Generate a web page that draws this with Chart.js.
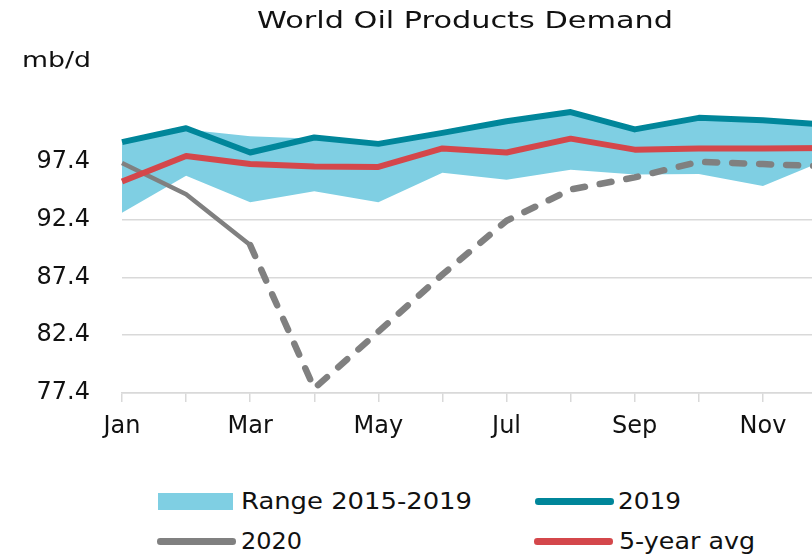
<!DOCTYPE html>
<html>
<head>
<meta charset="utf-8">
<script src="https://cdn.jsdelivr.net/npm/chart.js@4.4.1/dist/chart.umd.min.js"></script>
<style>
  html, body { margin: 0; padding: 0; background: #fff; }
  #wrap { position: relative; width: 812px; height: 557px; overflow: hidden; background: #fff; }
  #chart { position: absolute; left: 0; top: 0; }
  .txt { position: absolute; font-family: "DejaVu Sans", sans-serif; color: #111;
         white-space: nowrap; display: inline-block; transform-origin: left top; }
  .key { position: absolute; }
</style>
</head>
<body>
<div id="wrap">
  <canvas id="chart" width="840" height="470"></canvas>
  <span class="txt" id="title" style="left:257px; top:8.8px; font-size:23px; line-height:23px;">World Oil Products Demand</span>
  <span class="txt" id="unit" style="left:22px; top:48.7px; font-size:22px; line-height:22px;">mb/d</span>
  <div id="legend"></div>
</div>
<script>
// months on the x axis
const months = ["Jan", "Feb", "Mar", "Apr", "May", "Jun", "Jul", "Aug", "Sep", "Oct", "Nov", "Dec"];
// y axis tick labels (mb/d)
const yTicks = [77.4, 82.4, 87.4, 92.4, 97.4];
// series
const demand2019 = [99.1, 100.3, 98.2, 99.5, 98.95, 99.9, 100.9, 101.7, 100.2, 101.2, 101.0, 100.6];
const avg5y = [95.7, 97.9, 97.2, 97.0, 96.95, 98.55, 98.2, 99.4, 98.45, 98.55, 98.55, 98.6];
const demand2020 = [97.3, 94.6, 90.2, 77.8, 82.7, 87.65, 92.3, 95.0, 96.05, 97.4, 97.2, 97.0];
const rangeLow = [93.0, 96.2, 93.9, 94.85, 93.9, 96.45, 95.85, 96.7, 96.3, 96.35, 95.3, 97.6];
const rangeHigh = [98.9, 100.2, 99.6, 99.4, 98.9, 99.8, 100.8, 101.6, 100.1, 101.1, 100.9, 100.5];

const teal = "#00869a";
const red = "#d4474b";
const grey = "#808080";
const band = "#7fcfe3";
const gridGrey = "#d9d9d9";

Chart.defaults.font.family = "'DejaVu Sans', sans-serif";
Chart.defaults.color = "#111";

//2020 turns dashed after March
const dashed = (ctx, a, b) => ctx.p0DataIndex >= 2 ? a : b;

const chart = new Chart(document.getElementById("chart"), {
  type: "line",
  data: {
    labels: months,
    datasets: [
      { label: "2019", data: demand2019, borderColor: teal, borderWidth: 6, order: 1 },
      { label: "5-year avg", data: avg5y, borderColor: red, borderWidth: 6, order: 2 },
      {
        label: "2020", data: demand2020, borderColor: grey, borderWidth: 4.5, order: 3,
        segment: {
          borderDash: ctx => dashed(ctx, [12, 15], undefined),
          borderWidth: ctx => dashed(ctx, 6.5, undefined),
          borderCapStyle: ctx => dashed(ctx, "round", undefined),
        },
      },
      { label: "low", data: rangeLow, borderColor: "transparent", borderWidth: 0, fill: false, order: 5 },
      { label: "Range 2015-2019", data: rangeHigh, borderColor: "transparent", borderWidth: 0,
        backgroundColor: band, fill: "-1", order: 4 },
    ],
  },
  options: {
    responsive: false,
    devicePixelRatio: 1,
    animation: false,
    layout: { padding: { left: 0, top: 108.6, right: 13, bottom: 0 } },
    elements: {
      point: { radius: 0, hoverRadius: 0 },
      line: { tension: 0, borderJoinStyle: "round" },
    },
    plugins: {
      legend: { display: false },
      tooltip: { enabled: false },
      title: { display: false },
    },
    scales: {
      x: {
        afterFit: s => { s.height = 77; },
        grid: { drawOnChartArea: false, drawTicks: true, tickLength: 9, color: gridGrey, lineWidth: 1.5 },
        border: { display: true, color: gridGrey, width: 1.5 },
        ticks: {
          autoSkip: false, maxRotation: 0, padding: 10,
          font: { size: 24 },
          callback: (v, i) => (i % 2 === 0 ? months[i] : ""),
        },
      },
      y: {
        min: 77.4,
        max: 102,
        afterFit: s => { s.width = 122; },
        afterBuildTicks: s => { s.ticks = yTicks.map(v => ({ value: v })); },
        grid: { drawTicks: false, color: gridGrey, lineWidth: 1.5 },
        border: { display: false },
        ticks: { padding: 32, font: { size: 24 }, callback: v => v.toFixed(1) },
      },
    },
  },
});

//html legend in two columns
const legendItems = [
  { label: "Range 2015-2019", kind: "box", color: band, x: 158, y: 493, tx: 241, ty: 490, tw: 231 },
  { label: "2019", kind: "line", color: teal, x: 535, y: 501.7, tx: 618, ty: 490, tw: 63 },
  { label: "2020", kind: "line", color: grey, x: 157, y: 541.7, tx: 241, ty: 529.5, tw: 61 },
  { label: "5-year avg", kind: "line", color: red, x: 534, y: 541.7, tx: 619, ty: 529.5, tw: 136 },
];
const legend = document.getElementById("legend");
const fit = (el, w) => {
  const r = el.getBoundingClientRect().width;
  el.style.transform = `scaleX(${w / r})`;
};
legendItems.forEach(it => {
  const k = document.createElement("div");
  k.className = "key";
  if (it.kind === "box") {
    k.style.cssText = `left:${it.x}px;top:${it.y}px;width:75px;height:17px;background:${it.color};`;
  } else {
    k.style.cssText = `left:${it.x}px;top:${it.y - 3.25}px;width:79px;height:6.5px;border-radius:3.25px;background:${it.color};`;
  }
  legend.appendChild(k);
  const t = document.createElement("span");
  t.className = "txt";
  t.textContent = it.label;
  t.style.cssText = `left:${it.tx}px;top:${it.ty}px;font-size:23px;line-height:23px;`;
  legend.appendChild(t);
  fit(t, it.tw);
});
fit(document.getElementById("title"), 416);
fit(document.getElementById("unit"), 69);
</script>
</body>
</html>
